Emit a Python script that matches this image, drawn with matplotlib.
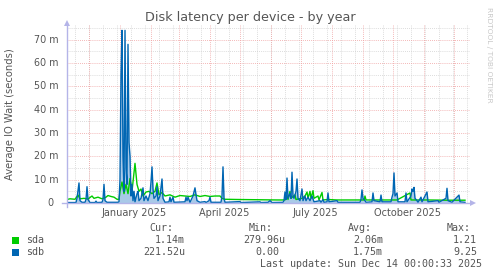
import numpy as np
import matplotlib
matplotlib.use("Agg")
import matplotlib.pyplot as plt

# ---- data (day offset from 2024-11-09, value in milliseconds) ----
sda_days = [0, 3, 8, 11, 13, 17, 21, 25, 27, 31, 35, 39, 41, 44, 47, 50, 52, 53, 55, 57, 59, 61, 63, 65,
            68, 70, 72, 74, 76, 79, 82, 85, 88, 90, 92, 95, 98, 103, 108, 113, 118, 123, 128, 133, 138,
            143, 148, 153, 155, 158, 170, 190, 210, 218, 220, 221, 223, 224, 228, 229, 235, 238, 240,
            241, 243, 244, 246, 247, 251, 252, 255, 256, 261, 270, 290, 297, 298, 299, 330, 343, 344,
            360, 380, 398]
sda_vals = [1.5, 1.8, 1.6, 3.4, 1.8, 2.0, 1.7, 3.0, 2.0, 2.5, 1.8, 2.5, 3.2, 2.8, 2.5, 1.6, 1.5, 5, 9, 4,
            8, 4, 10.5, 5, 17, 8, 5, 6, 3, 4.7, 5, 4, 5, 8.6, 3.5, 4.5, 3, 3.5, 2.5, 3.2, 3, 2.8, 3.5,
            2.8, 3.2, 2.8, 3, 3, 2.0, 1.6, 1.5, 1.4, 1.3, 1.3, 3, 1.5, 5, 2, 3.5, 1.5, 2, 3, 4.7, 2, 5,
            2, 5.3, 2, 3, 1.3, 4.5, 1.3, 1.5, 1.3, 1.3, 1.3, 3, 1.3, 1.3, 4.3, 1.3, 1.3, 1.2, 1.2]

sdb_days = [0, 9, 10, 12, 13, 15, 18, 19, 20, 21, 23, 28, 29, 30, 35, 36, 37, 38, 40, 51, 52, 53, 54, 55,
            56, 57, 58, 59, 60, 61, 62, 63, 64, 65, 66, 67, 68, 70, 71, 72, 74, 76, 77, 79, 81, 83, 84,
            85, 86, 87, 89, 90, 91, 93, 95, 96, 98, 102, 103, 104, 106, 107, 118, 119, 120, 121, 123,
            126, 128, 129, 130, 133, 138, 139, 142, 143, 144, 154, 155, 156, 157, 158, 173, 174, 193,
            194, 201, 203, 205, 216, 217, 218, 219, 220, 221, 223, 224, 225, 226, 227, 229, 230, 231,
            233, 235, 236, 238, 239, 241, 243, 245, 247, 253, 254, 256, 257, 260, 261, 262, 270, 271,
            278, 293, 294, 295, 296, 298, 299, 305, 306, 307, 313, 314, 315, 324, 325, 326, 327, 328,
            330, 331, 338, 339, 340, 344, 345, 346, 347, 348, 350, 351, 354, 355, 360, 361, 371, 372,
            379, 380, 381, 385, 392, 393, 398]
sdb_vals = [0.2, 0.2, 2, 8.6, 1, 0.3, 0.3, 1.5, 7, 1.5, 0.2, 0.2, 0.8, 0.2, 0.3, 1.5, 8, 1, 0.3, 0.3,
            0.5, 10, 55, 74, 20, 5, 74, 15, 8, 68, 26, 20, 3, 8, 1, 5, 0.5, 4, 5, 1, 2, 6.5, 1, 3, 1,
            4, 9, 15.5, 6, 2, 3, 7, 1, 3, 10.3, 2, 0.3, 0.5, 2.5, 0.5, 2.5, 0.3, 0.5, 2.5, 1, 2.5, 0.3,
            3, 6.5, 3.5, 1, 0.3, 0.6, 0.2, 1, 2.5, 0.3, 0.3, 3, 15.5, 2, 0.3, 0.6, 0.2, 0.5, 0.2, 0.3,
            1, 0.2, 0.3, 1, 4.7, 1.5, 10.7, 2, 4, 2, 13.2, 3, 2, 5, 10.3, 2, 1, 6, 1, 3, 1, 2.5, 1, 3,
            0.5, 1, 0.3, 1.5, 0.3, 0.5, 4.3, 0.5, 1, 0.3, 0.3, 0.3, 1.5, 5.6, 2, 1, 0.3, 0.5, 4.3, 1,
            0.5, 3.4, 0.5, 0.5, 2.5, 4, 12.9, 3, 4.3, 0.5, 0.5, 4.3, 0.5, 3, 6, 5, 6.7, 2, 1, 0.3, 2.5,
            0.5, 4.7, 0.5, 1, 0.3, 2, 6.3, 1, 0.3, 3.4, 0.5, 0.3]

start_date = np.datetime64("2024-11-09")
label_months = ["2025-01", "2025-04", "2025-07", "2025-10"]
label_texts = ["January 2025", "April 2025", "July 2025", "October 2025"]
yticks = [0, 10, 20, 30, 40, 50, 60, 70]
ytick_labels = ["0", "10 m", "20 m", "30 m", "40 m", "50 m", "60 m", "70 m"]

legend_names = ["sda", "sdb"]
legend_cur = ["1.14m", "221.52u"]
legend_min = ["279.96u", "0.00"]
legend_avg = ["2.06m", "1.75m"]
legend_max = ["1.21", "9.25"]
colors = ["#00cc00", "#0066b3"]

# ---- figure ----
W, H = 497, 276
fig = plt.figure(figsize=(W / 100, H / 100), dpi=100)
fig.patch.set_facecolor("white")


def fx(px):
    return px / W


def fy(py):
    return 1 - py / H


x0, x1, y0, y1 = 67, 470, 203, 25
ax = fig.add_axes([fx(x0), fy(y0), (x1 - x0) / W, (y0 - y1) / H])
ax.set_xlim(0, x1 - x0)
ax.set_ylim(0, (y0 - y1) / 2.333)
ax.set_facecolor("white")
for s in ax.spines.values():
    s.set_visible(False)
ax.set_xticks([])
ax.set_yticks([])


def day_of(d):
    return (np.datetime64(d) - start_date).astype(int)


# grid
month_days = [day_of(f"{y}-{m:02d}-01") for y, m in
              [(2024, 12)] + [(2025, m) for m in range(1, 13)]]
minor_days = list(range(8, 403, 14))
for d in minor_days:
    ax.axvline(d, color="#d0d0d0", lw=0.6, ls=(0, (1, 1.5)), zorder=0)
for v in np.arange(5, 80, 10):
    ax.axhline(v, color="#d0d0d0", lw=0.6, ls=(0, (1, 1.5)), zorder=0)
for d in month_days:
    ax.axvline(d, color="#f0a0a0", lw=0.6, ls=(0, (1, 1.5)), zorder=0.5)
for v in yticks[1:]:
    ax.axhline(v, color="#f0a0a0", lw=0.6, ls=(0, (1, 1.5)), zorder=0.5)

# data
ax.fill_between(sdb_days, 0, sdb_vals, color="#a9c9e8", lw=0, zorder=1)
ax.plot(sda_days, sda_vals, color=colors[0], lw=1.0, zorder=2)
ax.plot(sdb_days, sdb_vals, color=colors[1], lw=1.0, zorder=3)

# axes arrows
axis_col = "#b4b4e8"
fig.add_artist(plt.Line2D([fx(62), fx(470)], [fy(y0), fy(y0)], color=axis_col, lw=1.0))
fig.add_artist(plt.Line2D([fx(x0), fx(x0)], [fy(207), fy(25)], color=axis_col, lw=1.0))
fig.add_artist(plt.Polygon([[fx(470), fy(200)], [fx(476), fy(203)], [fx(470), fy(206)]],
                           closed=True, color=axis_col, lw=0))
fig.add_artist(plt.Polygon([[fx(64), fy(26)], [fx(67), fy(20)], [fx(70), fy(26)]],
                           closed=True, color=axis_col, lw=0))

tcol = "#555555"
# y tick labels
for v, lab in zip(yticks, ytick_labels):
    py = y0 - v * 2.333
    xr = 59 if lab != "0" else 54
    fig.text(fx(xr), fy(py), lab, ha="right", va="center", fontsize=6.9, color=tcol)

# x tick labels (mid-month)
for mo, lab in zip(label_months, label_texts):
    d = day_of(mo + "-15")
    fig.text(fx(x0 + d), fy(213), lab, ha="center", va="center", fontsize=7, color=tcol)

# title and labels
fig.text(fx(250), fy(18), "Disk latency per device - by year", ha="center", va="center",
         fontsize=9.2, color="#555555")
fig.text(fx(10), fy(114), "Average IO Wait (seconds)", ha="center", va="center",
         rotation=90, fontsize=7.2, color=tcol)
fig.text(fx(489), fy(55), "RRDTOOL / TOBI OETIKER", ha="center", va="center",
         rotation=270, fontsize=5.4, color="#c8c8c8")

# legend
mono = dict(family="DejaVu Sans Mono", fontsize=7.2, color=tcol, va="center")
fig.text(fx(149), fy(228), "Cur:", ha="left", **mono)
fig.text(fx(249), fy(228), "Min:", ha="left", **mono)
fig.text(fx(348), fy(228), "Avg:", ha="left", **mono)
fig.text(fx(447), fy(228), "Max:", ha="left", **mono)
rows_y = [240, 252]
for i in range(2):
    py = rows_y[i]
    fig.add_artist(plt.Rectangle((fx(12), fy(py + 3.5)), 7 / W, 7 / H, color=colors[i], lw=0))
    fig.text(fx(26), fy(py), legend_names[i], ha="left", **mono)
    fig.text(fx(185), fy(py), legend_cur[i], ha="right", **mono)
    min_right = 285 if legend_min[i].endswith("u") else 279
    fig.text(fx(min_right), fy(py), legend_min[i], ha="right", **mono)
    fig.text(fx(383), fy(py), legend_avg[i], ha="right", **mono)
    fig.text(fx(477), fy(py), legend_max[i], ha="right", **mono)
fig.text(fx(482), fy(264), "Last update: Sun Dec 14 00:00:33 2025", ha="right", **mono)

fig.savefig("out.png", dpi=100, facecolor="white")
